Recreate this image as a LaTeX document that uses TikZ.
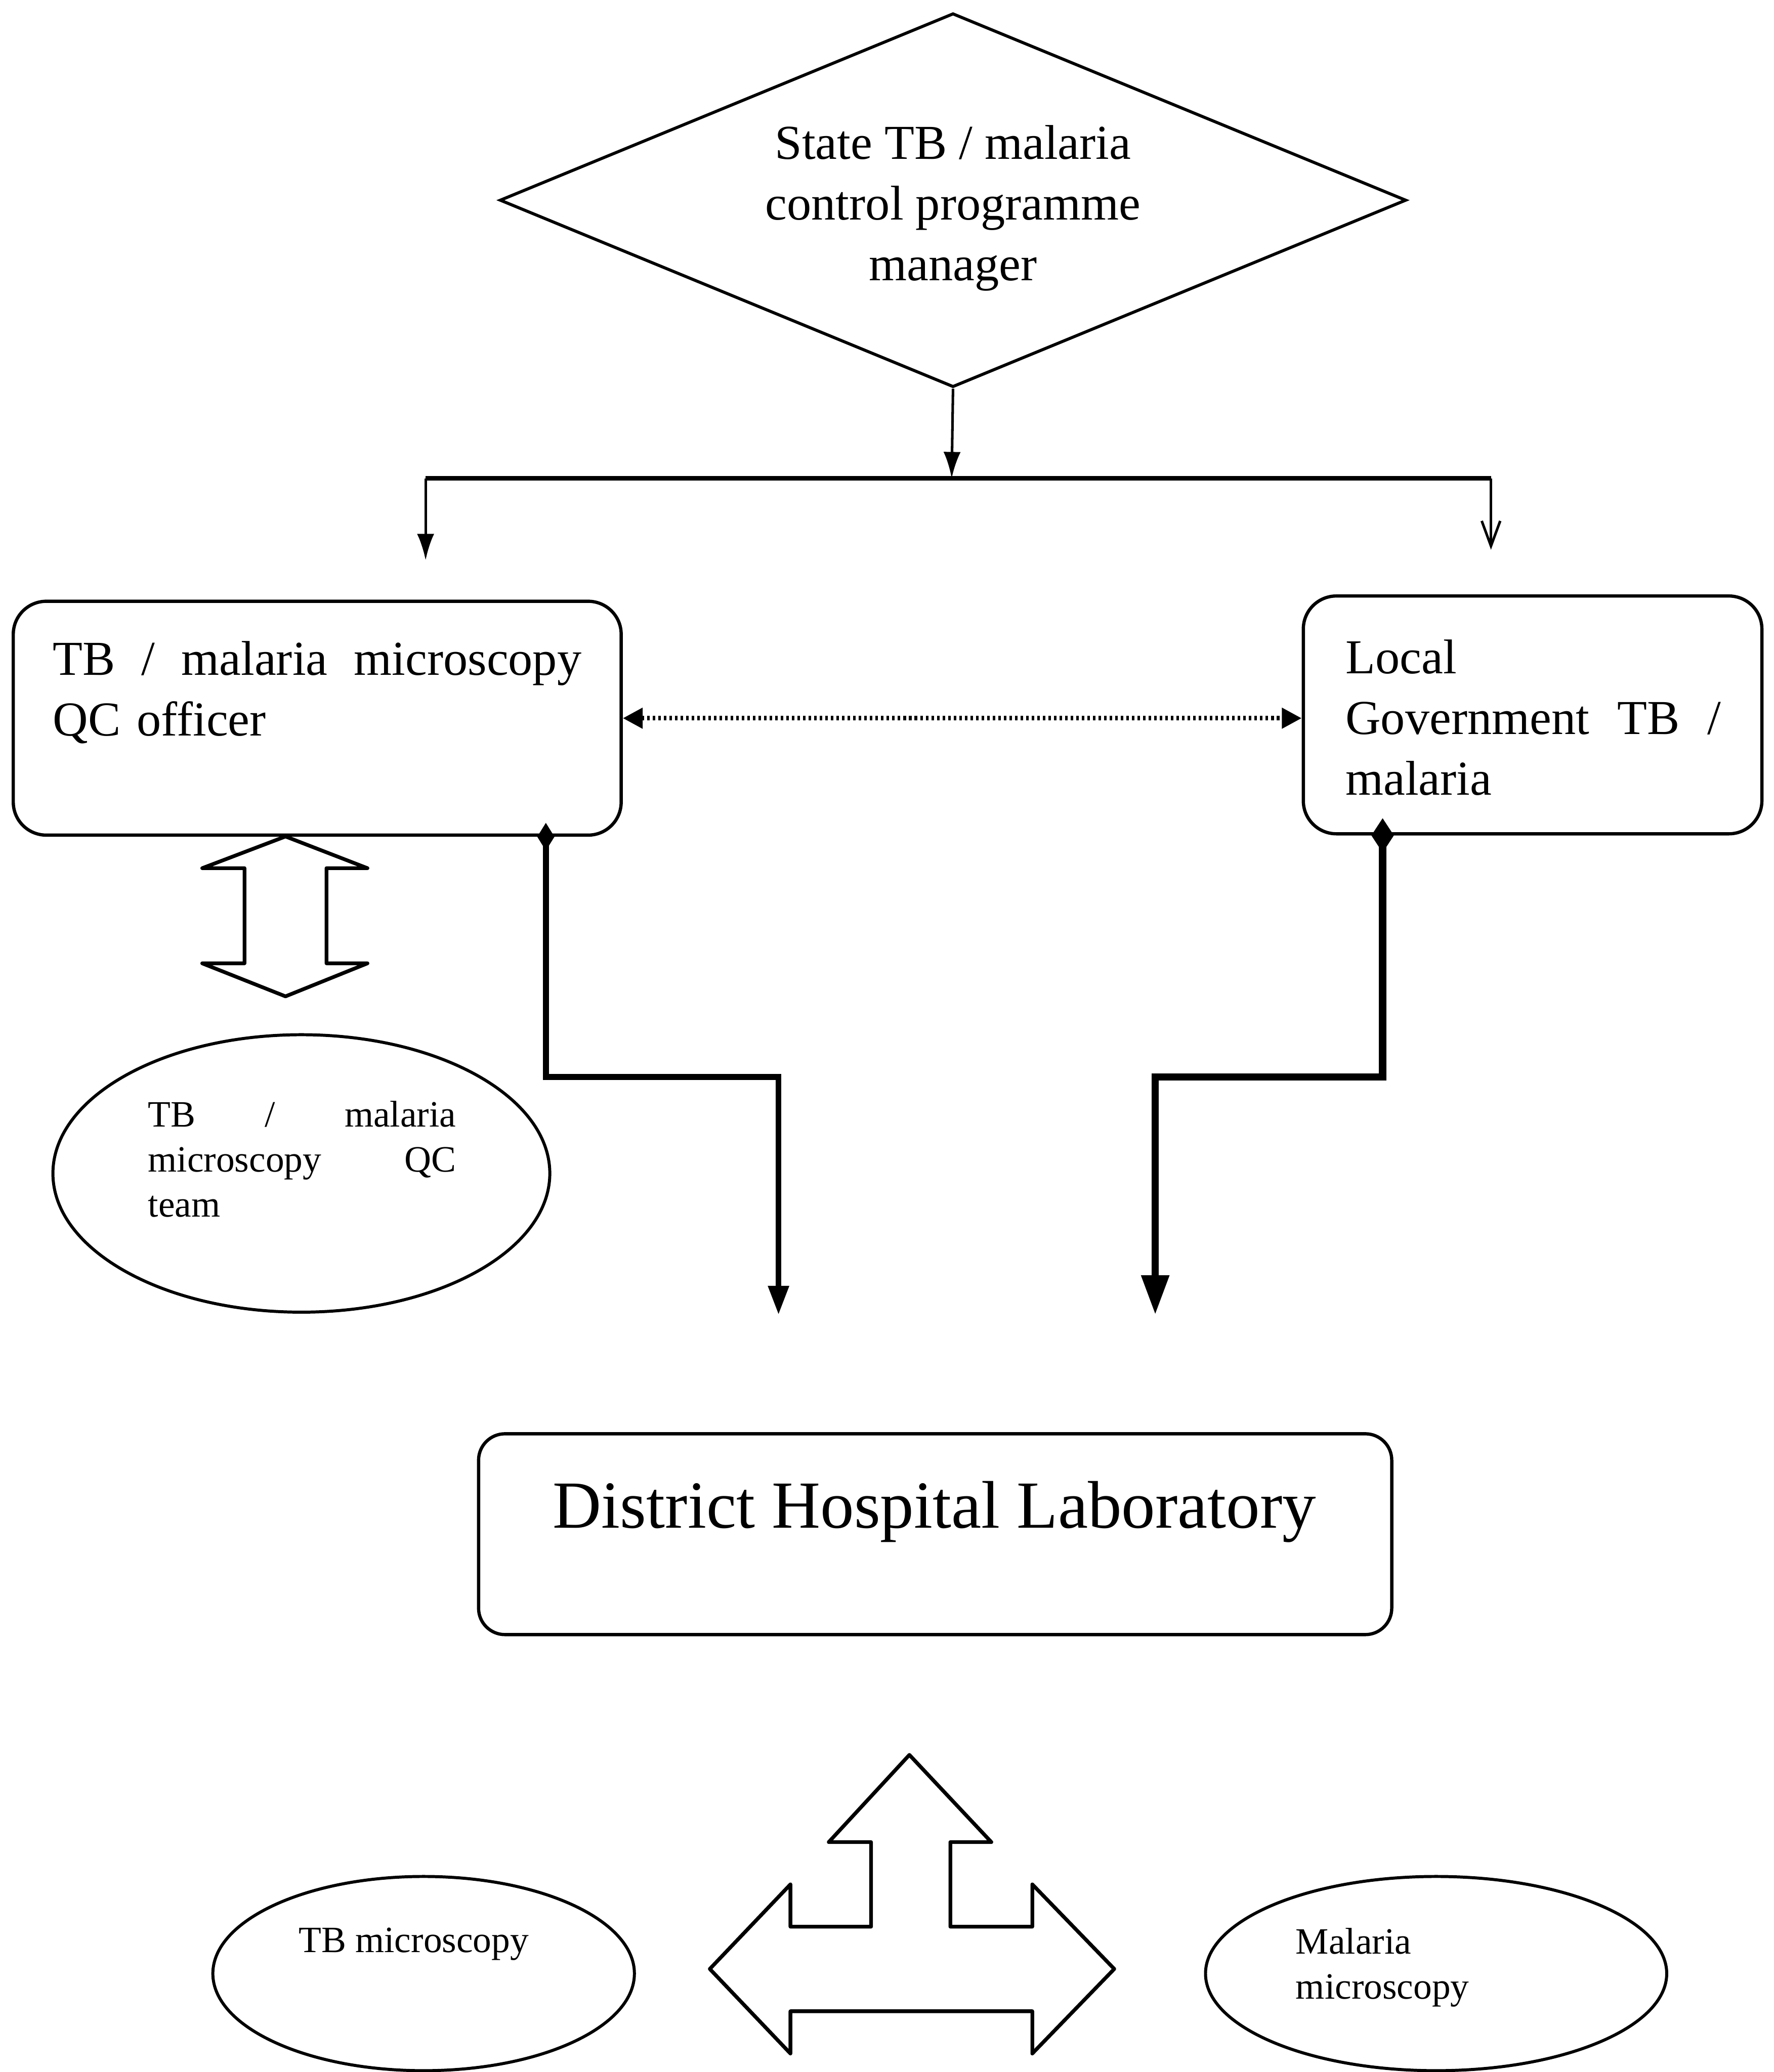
\documentclass[tikz,border=0pt]{standalone}
\usepackage{fontspec}
\setmainfont{Liberation Serif}
\usetikzlibrary{shapes.geometric,arrows.meta,calc}

\begin{document}
\begin{tikzpicture}[x=0.02cm, y=-0.02cm,
  box/.style={draw, line width=1.4pt, rounded corners=0.5cm, inner sep=0pt},
  oval/.style={draw, ellipse, line width=1.3pt, inner sep=0pt},
  bigtext/.style={font=\fontsize{21}{26.2}\selectfont, inner sep=0pt},
  smalltext/.style={font=\fontsize{16}{19.4}\selectfont, inner sep=0pt},
  thinline/.style={line width=1.1pt},
  dotline/.style={line width=2pt, dash pattern=on 1.1pt off 1.3pt},
  hollow/.style={draw, line width=1.6pt, line join=round},
  elbowA/.style={line width=2.5pt},
  elbowB/.style={line width=3.2pt},
]
\useasboundingbox (0,0) rectangle (1342,1568);

% ---- top: programme manager
\node[draw, diamond, line width=1.3pt, minimum width=13.72cm,
      minimum height=5.66cm, inner sep=0pt] (mgr) at (721,151.5) {};
\node[bigtext, align=center] (mgrtext) at (721,157.5)
  {State TB / malaria\\control programme\\manager};

% ---- second level boxes
\node[box, minimum width=9.2cm, minimum height=3.54cm] (qco) at (240,543.5) {};
\node[bigtext, text width=8cm, align=left] (qcotext) at (240,524)
  {\makebox[8cm][l]{TB\hfill/\hfill malaria\hfill microscopy}\\QC officer};

\node[box, minimum width=6.94cm, minimum height=3.6cm] (lg) at (1159.5,541) {};
\node[bigtext, text width=5.68cm, align=left] (lgtext) at (1160,543)
  {Local\\\makebox[5.68cm][l]{Government\hfill TB\hfill/}\\malaria};

% ---- QC team
\node[oval, minimum width=7.52cm, minimum height=4.2cm] (team) at (228,888) {};
\node[smalltext, text width=4.66cm, align=left] (teamtext) at (228.5,877)
  {\makebox[4.66cm][l]{TB\hfill/\hfill malaria}\\\makebox[4.66cm][l]{microscopy\hfill QC}\\team};

% ---- district laboratory
\node[box, rounded corners=0.4cm, minimum width=13.82cm, minimum height=3.04cm]
  (dhl) at (707.5,1161) {};
\node[font=\fontsize{29}{34}\selectfont, inner sep=0pt] (dhltext) at (707,1144)
  {District Hospital Laboratory};

% ---- bottom ovals
\node[oval, minimum width=6.38cm, minimum height=2.94cm] (tbm) at (320.5,1493.5) {};
\node[smalltext] (tbmtext) at (313,1471) {TB microscopy};
\node[oval, minimum width=6.98cm, minimum height=2.94cm] (mm) at (1086.5,1493.5) {};
\node[smalltext, align=left, anchor=west] (mmtext) at (980,1489)
  {Malaria\\microscopy};

% ---- branching from the manager
\coordinate (split) at (720,362);
\coordinate (bl) at (322,362);
\coordinate (br) at (1128,362);
\coordinate (blend) at (322,424);
\coordinate (brend) at (1128,416);

\draw[thinline, -{Latex[length=0.4cm,width=0.26cm]}] (mgr.south) -- (split);
\draw[line width=2pt] (bl) -- (br);
\draw[thinline, -{Latex[length=0.4cm,width=0.26cm]}] (bl) -- (blend);
\draw[thinline, -{Straight Barb[length=0.38cm,width=0.28cm]}] (br) -- (brend);

% ---- link between officer and local government
\draw[dotline, {Triangle[length=0.3cm,width=0.3cm]}-{Triangle[length=0.3cm,width=0.3cm]}]
  (qco.east) -- (qco.east -| lg.west);

% ---- stepped connectors to the district laboratory
\coordinate (lstep) at (589,815);
\coordinate (lend) at (589,995);
\coordinate (rstep) at (874,815);
\coordinate (rend) at (874,995);

\draw[elbowA, {Diamond[length=0.42cm,width=0.26cm]}-{Triangle[length=0.44cm,width=0.3cm]}]
  ([xshift=3.46cm,yshift=0.21cm]qco.south) |- (lstep) -- (lend);
\draw[elbowB, {Diamond[length=0.52cm,width=0.34cm]}-{Triangle[length=0.6cm,width=0.4cm]}]
  ([xshift=-2.27cm,yshift=0.26cm]lg.south) |- (rstep) -- (rend);

% ---- hollow two-headed arrow between officer and team
\draw[hollow] (216,633) -- (278,657) -- (247,657) -- (247,729) -- (278,729)
  -- (216,754) -- (153,729) -- (185,729) -- (185,657) -- (153,657) -- cycle;

% ---- hollow three-way arrow below the laboratory
\draw[hollow] (688,1328) -- (750,1394) -- (719,1394) -- (719,1458) -- (781,1458)
  -- (781,1426) -- (843,1490) -- (781,1554) -- (781,1522) -- (598,1522)
  -- (598,1554) -- (537,1490) -- (598,1426) -- (598,1458) -- (659,1458)
  -- (659,1394) -- (627,1394) -- cycle;
\end{tikzpicture}
\end{document}
